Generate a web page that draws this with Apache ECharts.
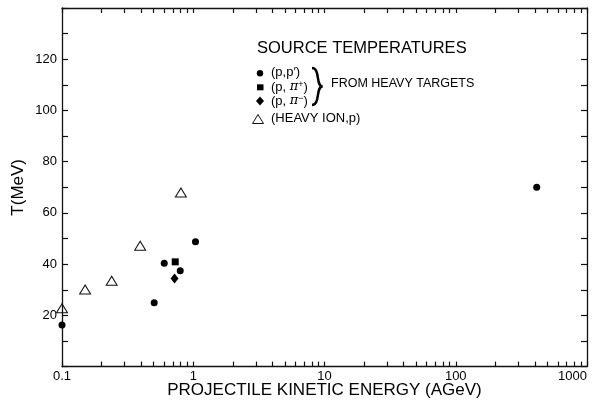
<!DOCTYPE html>
<html>
<head>
<meta charset="utf-8">
<script src="https://cdn.jsdelivr.net/npm/echarts@6/dist/echarts.min.js"></script>
<style>
  html, body { margin: 0; padding: 0; background: #fff; }
  #chart { width: 597px; height: 402px; }
</style>
</head>
<body>
<div id="chart"></div>
<script>
// Source temperatures vs. projectile kinetic energy (AGeV)
const ppEnergy   = [0.1, 0.504, 0.601, 0.796, 1.04, 414];
const ppTemp     = [16.2, 24.9, 40.3, 37.4, 48.7, 70.0];
const pipEnergy  = [0.729];
const pipTemp    = [40.9];
const pimEnergy  = [0.72];
const pimTemp    = [34.4];
const hiEnergy   = [0.1, 0.150, 0.239, 0.394, 0.805];
const hiTemp     = [22.8, 30.1, 33.5, 47.2, 68.0];

const xLabelValues = [0.1, 1, 10, 100, 1000];
const xLabelTexts  = ['0.1', '1', '10', '100', '1000'];
const yLabelValues = [20, 40, 60, 80, 100, 120];

// log-axis tick positions: 1..9 in every decade from 0.1 to 1000
const xTickValues = [];
[0.1, 1, 10, 100].forEach(function (d) {
  for (let k = 1; k <= 9; k++) xTickValues.push(+(d * k).toPrecision(3));
});
xTickValues.push(1000);

const FONT = '"Liberation Sans", Arial, Helvetica, sans-serif';
const INK = '#000';

const pairs = (xs, ys) => xs.map((x, i) => [x, ys[i]]);

const chart = echarts.init(document.getElementById('chart'), null, { renderer: 'canvas' });

const logAxisBase = {
  type: 'log',
  logBase: 10,
  min: 0.1,
  max: 1000,
  axisLine: { show: true, onZero: false, lineStyle: { color: '#111', width: 1.3 } },
  axisTick: { show: true, inside: true, length: 5, customValues: xTickValues, lineStyle: { color: '#111', width: 1.2 } },
  splitLine: { show: false },
  minorTick: { show: false }
};

const valueAxisBase = {
  type: 'value',
  min: 0,
  max: 140,
  interval: 10,
  axisLine: { show: true, onZero: false, lineStyle: { color: '#111', width: 1.3 } },
  axisTick: { show: true, inside: true, length: 6, lineStyle: { color: '#111', width: 1.2 } },
  splitLine: { show: false }
};

const richPi = {
  a: { fontFamily: FONT, fontSize: 13, color: INK },
  b: { fontFamily: '"DejaVu Serif", serif', fontStyle: 'italic', fontSize: 13, color: INK },
  c: { fontFamily: FONT, fontSize: 9, color: INK, verticalAlign: 'top', padding: [0, 0, 5, 0] }
};

const option = {
  backgroundColor: '#fff',
  animation: false,
  grid: { left: 62, right: 10, top: 8, bottom: 35.4, containLabel: false, outerBoundsMode: 'none' },
  xAxis: [
    Object.assign({}, logAxisBase, {
      position: 'bottom',
      name: 'PROJECTILE KINETIC ENERGY (AGeV)',
      nameLocation: 'middle',
      nameGap: 15,
      nameMoveOverlap: false,
      nameTextStyle: { fontFamily: FONT, fontSize: 17, color: INK },
      axisLabel: {
        show: true,
        customValues: xLabelValues,
        margin: 3,
        fontFamily: FONT,
        fontSize: 13,
        color: INK,
        alignMaxLabel: 'right',
        formatter: function (v) {
          const i = xLabelValues.findIndex(t => Math.abs(Math.log10(t) - Math.log10(v)) < 1e-6);
          return i >= 0 ? xLabelTexts[i] : '';
        }
      }
    }),
    Object.assign({}, logAxisBase, {
      position: 'top',
      axisLabel: { show: false }
    })
  ],
  yAxis: [
    Object.assign({}, valueAxisBase, {
      position: 'left',
      name: 'T(MeV)',
      nameLocation: 'middle',
      nameGap: 35,
      nameMoveOverlap: false,
      nameTextStyle: { fontFamily: FONT, fontSize: 17, color: INK },
      axisLabel: {
        show: true,
        margin: 5,
        fontFamily: FONT,
        fontSize: 13,
        color: INK,
        formatter: function (v) { return yLabelValues.indexOf(v) >= 0 ? String(v) : ''; }
      }
    }),
    Object.assign({}, valueAxisBase, {
      position: 'right',
      axisLabel: { show: false }
    })
  ],
  series: [
    {
      name: "(p,p')",
      type: 'scatter',
      symbol: 'circle',
      symbolSize: 7,
      clip: true,
      itemStyle: { color: INK, opacity: 1 },
      data: pairs(ppEnergy, ppTemp)
    },
    {
      name: '(p,π+)',
      type: 'scatter',
      symbol: 'rect',
      symbolSize: 7,
      clip: true,
      itemStyle: { color: INK, opacity: 1 },
      data: pairs(pipEnergy, pipTemp)
    },
    {
      name: '(p,π-)',
      type: 'scatter',
      symbol: 'diamond',
      symbolSize: [8, 10],
      clip: true,
      itemStyle: { color: INK, opacity: 1 },
      data: pairs(pimEnergy, pimTemp)
    },
    {
      name: '(HEAVY ION,p)',
      type: 'scatter',
      symbol: 'triangle',
      symbolSize: [11, 9],
      clip: true,
      itemStyle: { color: 'rgba(0,0,0,0)', borderColor: '#111', borderWidth: 1, opacity: 1 },
      data: pairs(hiEnergy, hiTemp)
    }
  ],
  graphic: [
    {
      type: 'text', x: 257, y: 40,
      style: { text: 'SOURCE TEMPERATURES', fontFamily: FONT, fontSize: 16.5, fill: INK }
    },
    { type: 'circle', shape: { cx: 260, cy: 73.3, r: 3.2 }, style: { fill: INK } },
    {
      type: 'text', x: 271, y: 66,
      style: { text: '(p,p′)', fontFamily: FONT, fontSize: 13, fill: INK }
    },
    { type: 'rect', shape: { x: 257, y: 84.3, width: 6.5, height: 6 }, style: { fill: INK } },
    {
      type: 'text', x: 271, y: 80,
      style: { text: '{a|(p, }{b|π}{c|+}{a|)}', rich: richPi }
    },
    { type: 'polygon', shape: { points: [[260, 96.5], [264, 101], [260, 105.5], [256, 101]] }, style: { fill: INK } },
    {
      type: 'text', x: 271, y: 94,
      style: { text: '{a|(p, }{b|π}{c|−}{a|)}', rich: richPi }
    },
    {
      type: 'bezierCurve',
      shape: { x1: 312, y1: 68, cpx1: 320.5, cpy1: 68, cpx2: 315.5, cpy2: 86.5, x2: 322.5, y2: 86.5 },
      style: { fill: 'none', stroke: INK, lineWidth: 2.5 }
    },
    {
      type: 'bezierCurve',
      shape: { x1: 322.5, y1: 86.5, cpx1: 315.5, cpy1: 86.5, cpx2: 320.5, cpy2: 105, x2: 312, y2: 105 },
      style: { fill: 'none', stroke: INK, lineWidth: 2.5 }
    },
    {
      type: 'text', x: 331, y: 77,
      style: { text: 'FROM HEAVY TARGETS', fontFamily: FONT, fontSize: 12.5, fill: INK }
    },
    {
      type: 'polygon', shape: { points: [[258, 114.5], [263.5, 123.5], [252.5, 123.5]] },
      style: { fill: 'none', stroke: '#111', lineWidth: 1 }
    },
    {
      type: 'text', x: 271, y: 112,
      style: { text: '(HEAVY ION,p)', fontFamily: FONT, fontSize: 13, fill: INK }
    }
  ]
};

chart.setOption(option);
</script>
</body>
</html>
